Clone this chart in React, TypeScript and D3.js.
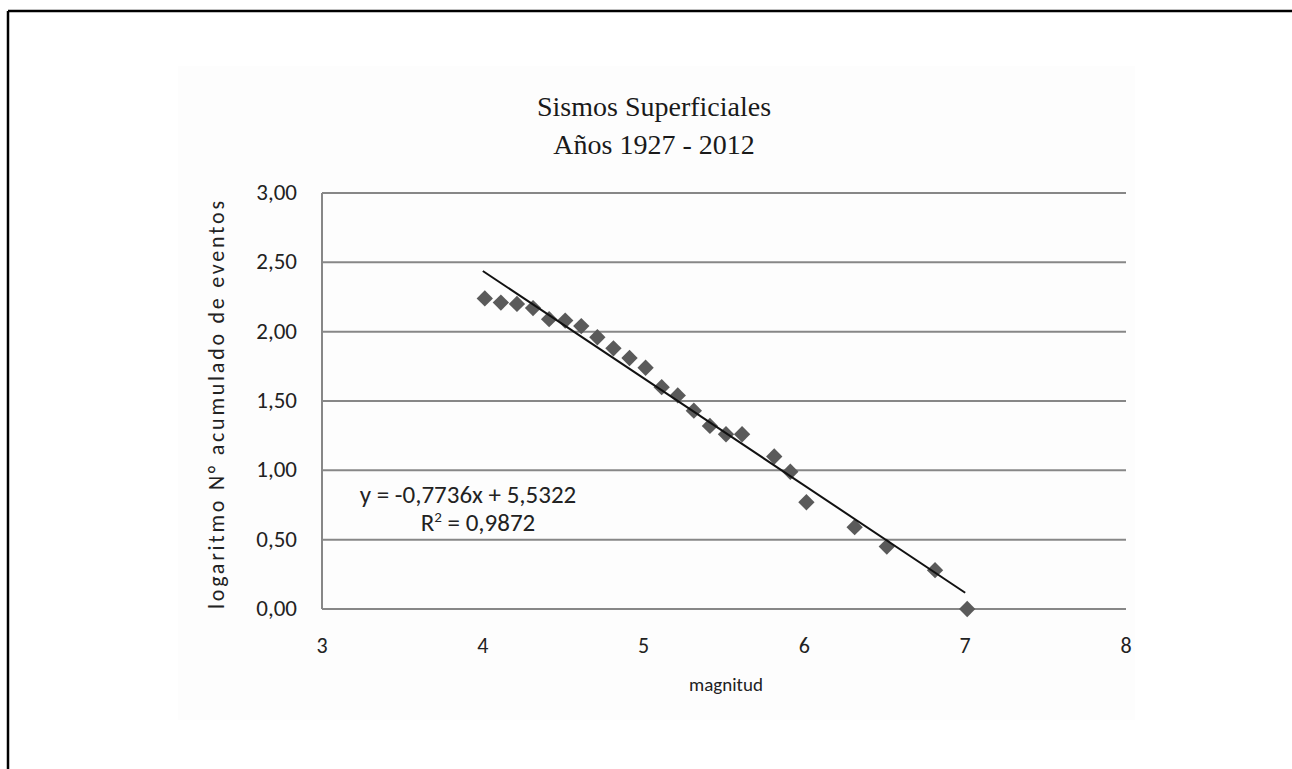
import { useEffect, useRef } from 'react';
import * as d3 from 'd3';

// magnitud vs log10 del número acumulado de eventos
const magnitudes = [
  4.0, 4.1, 4.2, 4.3, 4.4, 4.5, 4.6, 4.7, 4.8, 4.9, 5.0, 5.1, 5.2, 5.3, 5.4,
  5.5, 5.6, 5.8, 5.9, 6.0, 6.3, 6.5, 6.8, 7.0,
];
const logCounts = [
  2.24, 2.21, 2.2, 2.17, 2.09, 2.08, 2.04, 1.96, 1.88, 1.81, 1.74, 1.6, 1.54,
  1.43, 1.32, 1.26, 1.26, 1.1, 0.99, 0.77, 0.59, 0.45, 0.28, 0.0,
];
const xTicks = [3, 4, 5, 6, 7, 8];
const yTicks = [0, 0.5, 1, 1.5, 2, 2.5, 3];
const trendSlope = -0.7736;
const trendIntercept = 5.5322;
const trendR2 = 0.9872;
const titleLines = ['Sismos Superficiales', 'Años 1927 - 2012'];

const W = 1292;
const H = 769;
const fmt = (v: number, d: number) => v.toFixed(d).replace('.', ',');

export default function App() {
  const svgRef = useRef<SVGSVGElement>(null);

  useEffect(() => {
    if (!svgRef.current) return;
    const svg = d3.select(svgRef.current);
    svg.selectAll('*').remove();

    const sans = "Calibri, Carlito, 'Noto Sans', sans-serif";

    // page frame (only top and left edges show in the scan)
    svg.append('rect').attr('width', W).attr('height', H).attr('fill', '#fff');
    svg.append('line')
      .attr('x1', 8).attr('x2', W).attr('y1', 11).attr('y2', 11)
      .attr('stroke', '#000').attr('stroke-width', 2.5);
    svg.append('line')
      .attr('x1', 8).attr('x2', 8).attr('y1', 11).attr('y2', H)
      .attr('stroke', '#000').attr('stroke-width', 2.5);

    // chart area
    svg.append('rect')
      .attr('x', 178).attr('y', 66).attr('width', 957).attr('height', 654)
      .attr('fill', '#fdfdfd');

    const x = d3.scaleLinear().domain([3, 8]).range([322, 1126]);
    const y = d3.scaleLinear().domain([0, 3]).range([609, 193]);

    // gridlines
    svg.append('g')
      .selectAll('line')
      .data(yTicks)
      .join('line')
      .attr('x1', x(3))
      .attr('x2', x(8))
      .attr('y1', (d) => y(d))
      .attr('y2', (d) => y(d))
      .attr('stroke', '#878787')
      .attr('stroke-width', 2);

    // left axis line
    svg.append('line')
      .attr('x1', x(3)).attr('x2', x(3))
      .attr('y1', y(3)).attr('y2', y(0))
      .attr('stroke', '#878787').attr('stroke-width', 2);

    // y tick labels
    svg.append('g')
      .selectAll('text')
      .data(yTicks)
      .join('text')
      .attr('x', 297)
      .attr('y', (d) => y(d) + 7)
      .attr('text-anchor', 'end')
      .attr('font-family', sans)
      .attr('font-size', 23)
      .attr('fill', '#222')
      .text((d) => fmt(d, 2));

    // x tick labels
    svg.append('g')
      .selectAll('text')
      .data(xTicks)
      .join('text')
      .attr('x', (d) => x(d))
      .attr('y', 653)
      .attr('text-anchor', 'middle')
      .attr('font-family', sans)
      .attr('font-size', 22)
      .attr('fill', '#222')
      .text((d) => String(d));

    // axis titles
    svg.append('text')
      .attr('x', 726)
      .attr('y', 691)
      .attr('text-anchor', 'middle')
      .attr('font-family', sans)
      .attr('font-size', 19)
      .attr('fill', '#222')
      .text('magnitud');

    svg.append('text')
      .attr('transform', `translate(224,${(200 + 610) / 2}) rotate(-90)`)
      .attr('text-anchor', 'middle')
      .attr('font-family', sans)
      .attr('font-size', 22)
      .attr('textLength', 408)
      .attr('lengthAdjust', 'spacing')
      .attr('fill', '#222')
      .text('logaritmo N° acumulado de eventos');

    // title
    svg.append('g')
      .selectAll('text')
      .data(titleLines)
      .join('text')
      .attr('x', 654)
      .attr('y', (_, i) => 116 + i * 38)
      .attr('text-anchor', 'middle')
      .attr('font-family', "'Liberation Serif', 'Times New Roman', serif")
      .attr('font-size', 28)
      .attr('fill', '#1a1a1a')
      .text((d) => d);

    // data markers
    const pts = magnitudes.map((m, i) => ({ m, v: logCounts[i] }));
    svg.append('g')
      .selectAll('path')
      .data(pts)
      .join('path')
      .attr('d', d3.symbol(d3.symbolDiamond2, 170)())
      .attr('transform', (d) => `translate(${x(d.m) + 2},${y(d.v)})`)
      .attr('fill', '#5a5a5a');

    // linear trend line
    const x0 = d3.min(magnitudes) as number;
    const x1 = d3.max(magnitudes) as number;
    svg.append('line')
      .attr('x1', x(x0))
      .attr('y1', y(trendSlope * x0 + trendIntercept))
      .attr('x2', x(x1))
      .attr('y2', y(trendSlope * x1 + trendIntercept))
      .attr('stroke', '#111')
      .attr('stroke-width', 2);

    // equation label
    const eq = svg.append('g').attr('font-family', sans).attr('font-size', 25).attr('fill', '#222');
    eq.append('text')
      .attr('x', 468)
      .attr('y', 503)
      .attr('text-anchor', 'middle')
      .text(`y = ${fmt(trendSlope, 4)}x + ${fmt(trendIntercept, 4)}`);
    const r2 = eq.append('text')
      .attr('x', 478)
      .attr('y', 531)
      .attr('text-anchor', 'middle');
    r2.append('tspan').text('R');
    r2.append('tspan').attr('dy', -9).attr('font-size', 15).text('2');
    r2.append('tspan').attr('dy', 9).text(` = ${fmt(trendR2, 4)}`);
  }, []);

  return (
    <svg
      ref={svgRef}
      width={W}
      height={H}
      style={{ position: 'absolute', left: 0, top: 0 }}
    />
  );
}
